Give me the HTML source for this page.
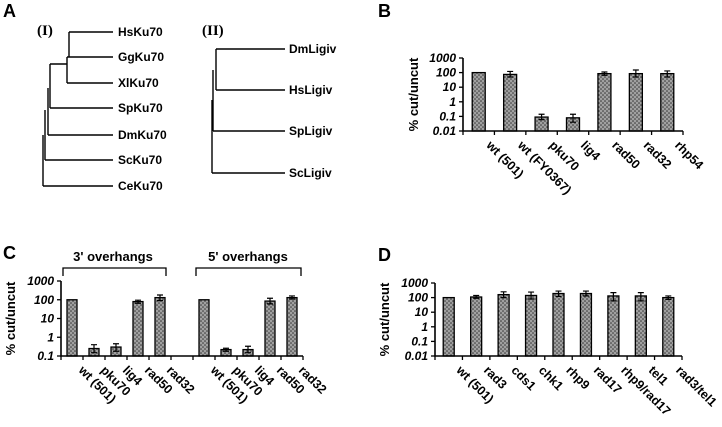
<!DOCTYPE html>
<html><head><meta charset="utf-8"><style>
html,body{margin:0;padding:0;background:#fff;}
svg{display:block;font-family:"Liberation Sans",Arial,sans-serif;}
.pl{font-weight:bold;font-size:18px;}
.leaf{font-weight:bold;font-size:12px;}
.yt{font-weight:bold;font-style:italic;font-size:12px;}
.at{font-weight:bold;font-size:13px;}
.cl{font-weight:bold;font-size:12.5px;}
</style></head><body>
<svg id="fig" width="722" height="427" viewBox="0 0 722 427">
<defs>
<pattern id="dots" width="4" height="4" patternUnits="userSpaceOnUse">
<rect width="4" height="4" fill="#a0a0a0"/><circle cx="1" cy="1" r="0.8" fill="#333"/><circle cx="3" cy="3" r="0.8" fill="#333"/>
</pattern>
</defs>
<text class="pl" x="3" y="17">A</text>
<g stroke="#000" stroke-width="1.4" fill="none">
<path d="M69 32H113 M69 32V57 M67 57H113 M67 57V83 M67 83H113 M50 64H67 M50 64V108 M50 108H113 M48 88V135 M48 135H113 M45 110V160 M45 160H113 M43 135V186 M43 186H113"/>
</g>
<g stroke="#000" stroke-width="1.4" fill="none">
<path d="M216 49H285 M216 49V90 M216 90H285 M213 70V131 M213 131H285 M212 100V173 M212 173H285"/>
</g>
<text x="37" y="35" font-family="Liberation Serif,serif" font-weight="bold" font-size="15">(I)</text>
<text x="202" y="35" font-family="Liberation Serif,serif" font-weight="bold" font-size="15">(II)</text>
<g class="leaf">
<text x="118" y="36">HsKu70</text>
<text x="118" y="61">GgKu70</text>
<text x="118" y="87">XlKu70</text>
<text x="118" y="112">SpKu70</text>
<text x="118" y="139">DmKu70</text>
<text x="118" y="164">ScKu70</text>
<text x="118" y="190">CeKu70</text>
<text x="289" y="53">DmLigiv</text>
<text x="289" y="94">HsLigiv</text>
<text x="289" y="135">SpLigiv</text>
<text x="289" y="177">ScLigiv</text>
</g>
<text class="pl" x="378" y="17">B</text>
<text class="pl" x="3" y="259">C</text>
<text class="pl" x="378" y="261">D</text>
<g>
<path d="M63 276V268H166V276" stroke="#000" stroke-width="1.3" fill="none"/>
<text x="113" y="261" text-anchor="middle" font-weight="bold" font-size="13">3' overhangs</text>
</g>
<g>
<path d="M196 276V268H301V276" stroke="#000" stroke-width="1.3" fill="none"/>
<text x="248" y="261" text-anchor="middle" font-weight="bold" font-size="13">5' overhangs</text>
</g>
</svg>
<script>
const bCats = ["wt (501)","wt (FY0367)","pku70","lig4","rad50","rad32","rhp54"];
const bVals = [100,75,0.09,0.08,85,85,85];
const bLo = [null,50,0.06,0.04,65,50,50];
const bHi = [null,120,0.14,0.14,110,150,130];
const bTicks = ["1000","100","10","1","0.1","0.01"];

const cCats = ["wt (501)","pku70","lig4","rad50","rad32","","wt (501)","pku70","lig4","rad50","rad32"];
const cVals = [100,0.25,0.3,80,130,null,100,0.22,0.22,85,130];
const cLo = [null,0.15,0.18,65,90,null,null,0.18,0.15,60,110];
const cHi = [null,0.4,0.45,95,180,null,null,0.26,0.33,120,160];
const cTicks = ["1000","100","10","1","0.1"];

const dCats = ["wt (501)","rad3","cds1","chk1","rhp9","rad17","rhp9/rad17","tel1","rad3/tel1"];
const dVals = [100,110,160,140,190,190,130,130,100];
const dLo = [null,90,100,80,120,130,60,60,75];
const dHi = [null,140,250,240,280,280,220,220,130];
const dTicks = ["1000","100","10","1","0.1","0.01"];

const NS="http://www.w3.org/2000/svg";
const svg=document.getElementById('fig');
function mk(t,a,p){const e=document.createElementNS(NS,t);for(const k in a)e.setAttribute(k,a[k]);(p||svg).appendChild(e);return e;}

function panel(name,cfg,cats,vals,lo,hi,ticks){
  const g=mk('g',{});
  
  
  const maxL=Math.log10(+ticks[0]), minL=Math.log10(+ticks[ticks.length-1]);
  const y=v=>cfg.y0+(maxL-Math.log10(v))/(maxL-minL)*(cfg.y1-cfg.y0);
  const slot=(cfg.x1-cfg.x0)/cats.length;
  const cx=i=>cfg.x0+slot*(i+0.5);
  ticks.forEach(t=>{
    const ty=y(+t);
    const tk=mk('line',{x1:cfg.x0-4,x2:cfg.x0,y1:ty,y2:ty,stroke:'#000','stroke-width':1.3},g);
    
    
    const tl=mk('text',{x:cfg.x0-7,y:ty+4,'text-anchor':'end','class':'yt'},g);
    tl.textContent=t;
    
    
  });
  vals.forEach((v,i)=>{
    if(v!==null){
      const by=y(v);
      const b=mk('rect',{x:cx(i)-cfg.bw/2,y:by,width:cfg.bw,height:cfg.y1-by,fill:'url(#dots)',stroke:'#000','stroke-width':1.3},g);
      
      
      if(lo[i]!==null){
        const yl=y(lo[i]),yh=y(hi[i]);
        const e=mk('path',{d:`M${cx(i)} ${yl}V${yh}M${cx(i)-3} ${yl}H${cx(i)+3}M${cx(i)-3} ${yh}H${cx(i)+3}`,stroke:'#000','stroke-width':1.2,fill:'none'},g);
        
        
      }
    }
  });
  for(let i=0;i<=cats.length;i++){
    const xx=cfg.x0+slot*i;
    const t=mk('line',{x1:xx,x2:xx,y1:cfg.y1,y2:cfg.y1+4,stroke:'#000','stroke-width':1.3},g);
    
    
  }
  cats.forEach((c,i)=>{
    if(!c)return;
    const lx=cx(i)+cfg.lo, ly=cfg.y1+15;
    const t=mk('text',{x:lx,y:ly,'class':'cl',transform:`rotate(45 ${lx} ${ly})`},g);
    t.textContent=c;
    
    
  });
  const ax=mk('path',{d:`M${cfg.x0} ${cfg.y0}V${cfg.y1}H${cfg.x1}`,stroke:'#000','stroke-width':1.6,fill:'none'},g);
  
  
  const tx=cfg.tx, ty=(cfg.y0+cfg.y1)/2;
  const at=mk('text',{x:tx,y:ty,'text-anchor':'middle','class':'at',transform:`rotate(-90 ${tx} ${ty})`},g);
  at.textContent='% cut/uncut';
  
  
}
panel('chart-b',{x0:463,x1:683,y0:58,y1:131,bw:13,tx:418,lo:7},bCats,bVals,bLo,bHi,bTicks);
panel('chart-c',{x0:61,x1:303,y0:281,y1:356,bw:10,tx:15,lo:6},cCats,cVals,cLo,cHi,cTicks);
panel('chart-d',{x0:435,x1:682,y0:283,y1:356,bw:11,tx:389,lo:7},dCats,dVals,dLo,dHi,dTicks);
</script>
</body></html>
